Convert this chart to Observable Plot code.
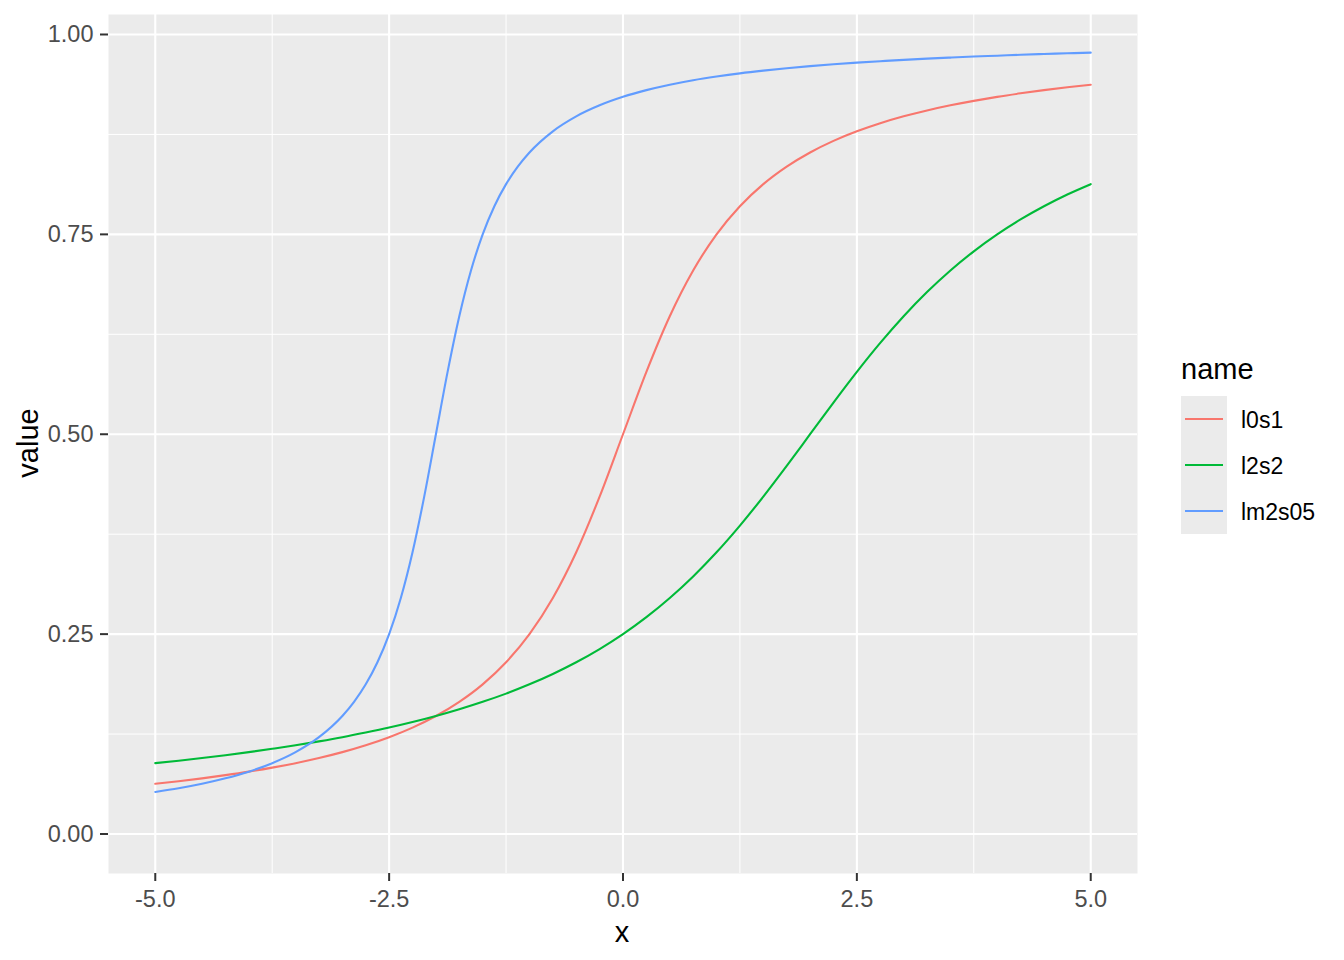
<!DOCTYPE html>
<html>
<head>
<meta charset="utf-8">
<script src="https://cdn.jsdelivr.net/npm/d3@7"></script>
<script src="https://cdn.jsdelivr.net/npm/@observablehq/plot@0.6"></script>
<style>
  html, body { margin: 0; padding: 0; background: #fff; }
  body { width: 1344px; height: 960px; overflow: hidden; font-family: "Liberation Sans", Arial, sans-serif; }
  #wrap { position: relative; width: 1344px; height: 960px; }
  #chart { position: absolute; left: 0; top: 0; }
  .title { position: absolute; color: #000; font-size: 29px; line-height: 1; white-space: nowrap; }
  #legend { position: absolute; left: 0; top: 0; }
</style>
</head>
<body>
<div id="wrap">
  <div id="chart"></div>
  <div class="title" id="xtitle">x</div>
  <div class="title" id="ytitle">value</div>
  <svg id="legend" width="1344" height="960"></svg>
</div>
<script>
// Series names and colours
const seriesNames = ["l0s1", "l2s2", "lm2s05"];
const seriesColors = ["#F8766D", "#00BA38", "#619CFF"];

// Shared x grid for l0s1 and l2s2
const xs = [-5, -4.75, -4.5, -4.25, -4, -3.75, -3.5, -3.25, -3, -2.75, -2.5, -2.25, -2, -1.75, -1.5, -1.25, -1, -0.75, -0.5, -0.25,
  0, 0.25, 0.5, 0.75, 1, 1.25, 1.5, 1.75, 2, 2.25, 2.5, 2.75, 3, 3.25, 3.5, 3.75, 4, 4.25, 4.5, 4.75, 5];

const l0s1 = [0.0628, 0.0660, 0.0696, 0.0736, 0.0780, 0.0830, 0.0886, 0.0950, 0.1024, 0.1110, 0.1211, 0.1331, 0.1476, 0.1653, 0.1872, 0.2148, 0.25, 0.2952, 0.3524, 0.4220,
  0.5, 0.5780, 0.6476, 0.7048, 0.75, 0.7852, 0.8128, 0.8347, 0.8524, 0.8669, 0.8789, 0.8890, 0.8976, 0.9050, 0.9114, 0.9170, 0.9220, 0.9264, 0.9304, 0.9340, 0.9372];

const l2s2 = [0.0886, 0.0917, 0.0950, 0.0986, 0.1024, 0.1066, 0.1110, 0.1159, 0.1211, 0.1269, 0.1331, 0.1400, 0.1476, 0.1560, 0.1653, 0.1756, 0.1872, 0.2002, 0.2148, 0.2313,
  0.25, 0.2712, 0.2952, 0.3222, 0.3524, 0.3858, 0.4220, 0.4604, 0.5, 0.5396, 0.5780, 0.6142, 0.6476, 0.6778, 0.7048, 0.7288, 0.75, 0.7687, 0.7852, 0.7999, 0.8128];

// Finer x grid for the steep lm2s05 series
const xsLm2 = [-5, -4.75, -4.5, -4.25, -4, -3.75, -3.5, -3.25, -3, -2.875, -2.75, -2.625, -2.5, -2.375, -2.25, -2.125, -2, -1.875, -1.75, -1.625, -1.5, -1.375, -1.25, -1.125,
  -1, -0.75, -0.5, -0.25, 0, 0.25, 0.5, 0.75, 1, 1.25, 1.5, 1.75, 2, 2.25, 2.5, 2.75, 3, 3.25, 3.5, 3.75, 4, 4.25, 4.5, 4.75, 5];

const lm2s05 = [0.0526, 0.0572, 0.0628, 0.0696, 0.0780, 0.0886, 0.1024, 0.1211, 0.1476, 0.1653, 0.1872, 0.2148, 0.25, 0.2952, 0.3524, 0.4220, 0.5, 0.5780, 0.6476, 0.7048, 0.75, 0.7852, 0.8128, 0.8347,
  0.8524, 0.8789, 0.8976, 0.9114, 0.9220, 0.9304, 0.9372, 0.9428, 0.9474, 0.9514, 0.9548, 0.9578, 0.9604, 0.9627, 0.9648, 0.9666, 0.9683, 0.9698, 0.9711, 0.9724, 0.9735, 0.9746, 0.9756, 0.9765, 0.9773];

// Axis ticks
const xTicks = [-5, -2.5, 0, 2.5, 5];
const xMinor = [-3.75, -1.25, 1.25, 3.75];
const yTicks = [0, 0.25, 0.5, 0.75, 1];
const yMinor = [0.125, 0.375, 0.625, 0.875];

// Build the long table
const table = [];
xs.forEach((x, i) => table.push({x, value: l0s1[i], name: "l0s1"}));
xs.forEach((x, i) => table.push({x, value: l2s2[i], name: "l2s2"}));
xsLm2.forEach((x, i) => table.push({x, value: lm2s05[i], name: "lm2s05"}));

const W = 1160, H = 960;
const chart = Plot.plot({
  width: W,
  height: H,
  marginLeft: 108,
  marginRight: 23,
  marginTop: 14,
  marginBottom: 87,
  style: { fontFamily: '"Liberation Sans", Arial, sans-serif', background: "transparent" },
  x: { domain: [-5.5, 5.5] },
  y: { domain: [-0.0494, 1.025] },
  color: { domain: seriesNames, range: seriesColors },
  marks: [
    Plot.frame({ fill: "#EBEBEB", stroke: "none" }),
    Plot.gridX(xMinor, { stroke: "#FFFFFF", strokeOpacity: 1, strokeWidth: 1 }),
    Plot.gridY(yMinor, { stroke: "#FFFFFF", strokeOpacity: 1, strokeWidth: 1 }),
    Plot.gridX(xTicks, { stroke: "#FFFFFF", strokeOpacity: 1, strokeWidth: 2.1 }),
    Plot.gridY(yTicks, { stroke: "#FFFFFF", strokeOpacity: 1, strokeWidth: 2.1 }),
    Plot.axisX(xTicks, { tickFormat: d => d.toFixed(1), tickSize: 8, tickPadding: 9, fontSize: 23.5, stroke: "#333333", strokeWidth: 2, color: "#4D4D4D", label: null }),
    Plot.axisY(yTicks, { tickFormat: d => d.toFixed(2), tickSize: 8, tickPadding: 7, fontSize: 23.5, stroke: "#333333", strokeWidth: 2, color: "#4D4D4D", label: null }),
    Plot.line(table, { x: "x", y: "value", stroke: "name", z: "name", curve: "monotone-x", strokeWidth: 2.1 })
  ]
});
document.getElementById("chart").appendChild(chart);

// Axis titles
const xt = document.getElementById("xtitle");
xt.style.left = "622px"; xt.style.top = "932px"; xt.style.transform = "translate(-50%, -50%)";
const yt = document.getElementById("ytitle");
yt.style.left = "28px"; yt.style.top = "443px"; yt.style.transform = "translate(-50%, -50%) rotate(-90deg)";

// Legend
const lg = d3.select("#legend");
lg.append("text").attr("x", 1181).attr("y", 379).attr("font-size", 29).attr("fill", "#000").text("name");
lg.append("rect").attr("x", 1181).attr("y", 396).attr("width", 46).attr("height", 138).attr("fill", "#EBEBEB");
seriesNames.forEach((n, i) => {
  const cy = 419 + i * 46;
  lg.append("line").attr("x1", 1185).attr("x2", 1223).attr("y1", cy).attr("y2", cy)
    .attr("stroke", seriesColors[i]).attr("stroke-width", 2.2);
  lg.append("text").attr("x", 1241).attr("y", cy + 1).attr("dy", "0.36em").attr("font-size", 23).attr("fill", "#000").text(n);
});
</script>
</body>
</html>
